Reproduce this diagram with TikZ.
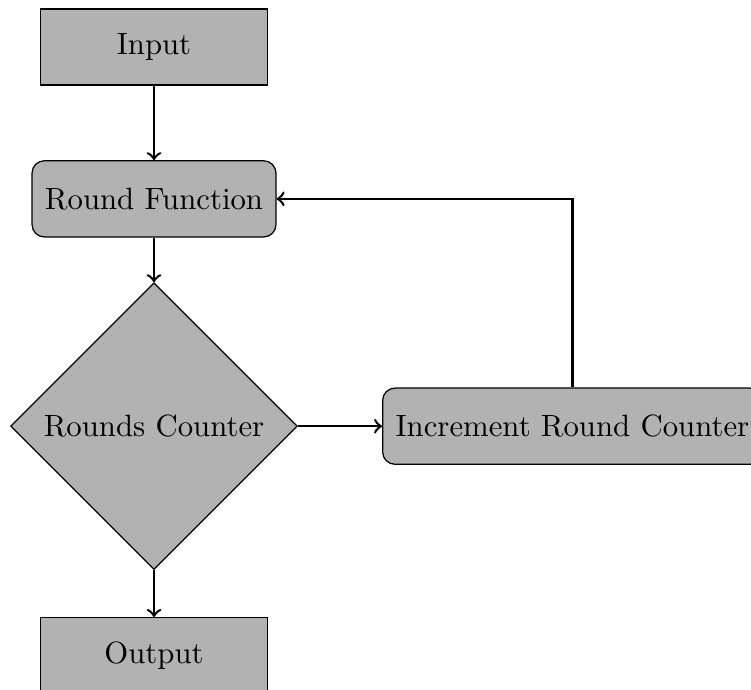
\documentclass[tikz,border=0pt]{standalone}
\usepackage{tikz}
\usetikzlibrary{shapes.geometric,positioning}

\begin{document}
\begin{tikzpicture}[
        block/.style={draw, fill=gray!60, minimum width=2.6cm, minimum height=0.87cm},
        roundblock/.style={block, rounded corners, minimum width=0pt, inner xsep=4.2pt},
        decision/.style={draw, fill=gray!60, diamond, aspect=1, inner sep=3.57pt},
        flow/.style={->, thick}
    ]
        \useasboundingbox (-1.759,0.537) rectangle (6.818,-7.332);
        % main chain
        \node[block] (input) at (0,0) {Input};
        \node[roundblock, below=0.85cm of input] (round) {Round Function};
        \node[decision, below=0.51cm of round] (counter) {Rounds Counter};
        \node[block, below=0.535cm of counter] (output) {Output};
        % increment
        \node[roundblock, right=0.96cm of counter] (incr) {Increment Round Counter};
        % arrows
        \draw[flow] (input) -- (round);
        \draw[flow] (round) -- (counter);
        \draw[flow] (counter) -- (output);
        \draw[flow] (counter) -- (incr);
        \draw[flow] (incr.north) |- (round.east);
    \end{tikzpicture}
\end{document}
